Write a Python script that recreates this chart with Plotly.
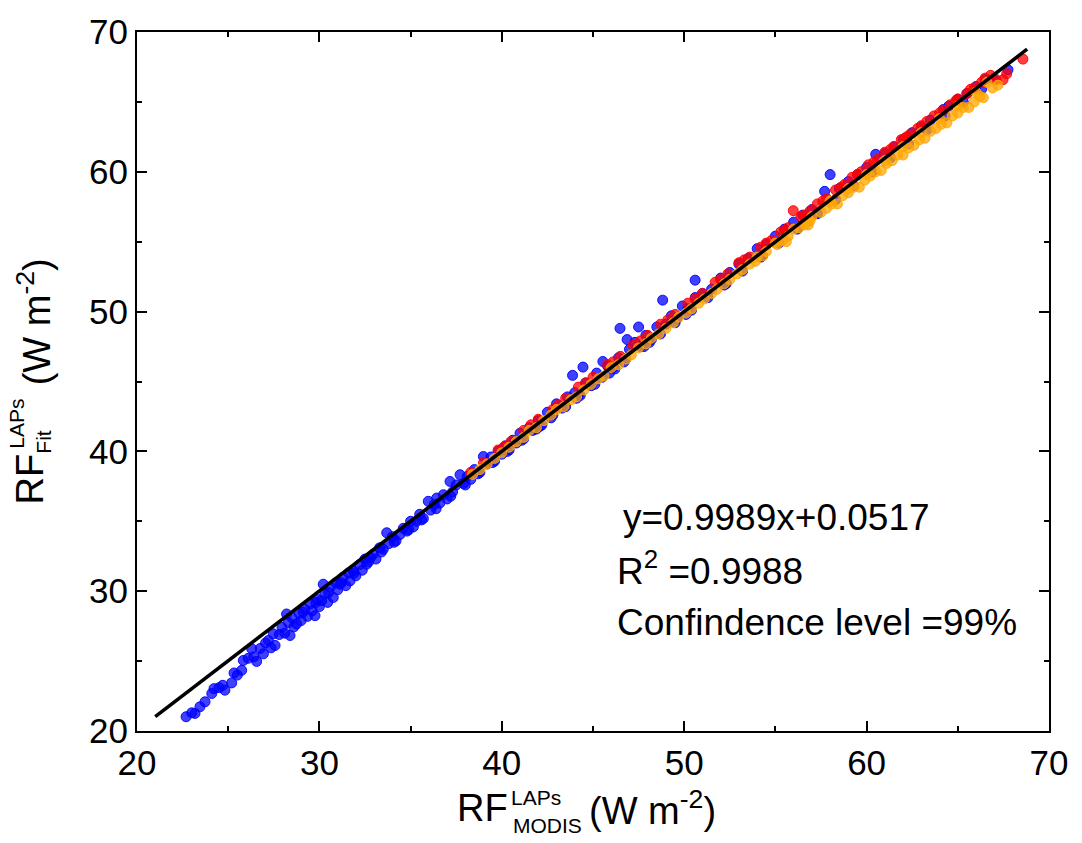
import plotly.graph_objects as go

# values
blue_x = [22.69, 23.0, 23.18, 23.45, 23.73, 24.1, 24.22, 24.5, 24.7, 24.82, 25.19, 25.32, 25.5, 25.74, 25.83,
          26.1, 26.29, 26.4, 26.56, 26.75, 26.93, 27.05, 27.2, 27.35, 27.47, 27.57, 27.8, 27.95, 28.1, 28.2,
          28.3, 28.39, 28.5, 28.6, 28.75, 28.9, 29.0, 29.2, 29.35, 29.5, 29.6, 29.76, 29.9, 30.0, 30.12,
          30.21, 30.3, 30.45, 30.6, 30.76, 30.9, 31.0, 31.13, 31.3, 31.45, 31.6, 31.68, 31.86, 32.0, 32.2,
          32.35, 32.5, 32.59, 32.8, 32.95, 33.1, 33.3, 33.5, 33.69, 33.8, 34.0, 34.2, 34.42, 34.6, 34.8,
          35.0, 35.15, 35.33, 35.5, 35.7, 35.97, 36.1, 36.3, 36.43, 36.6, 36.8, 37.0, 37.16, 37.3, 37.5,
          37.71, 37.9, 38.1, 38.3, 38.5, 38.7, 38.99, 39.2, 39.4, 39.6, 39.8, 40.0, 40.2, 40.4, 40.6,
          40.8, 41.0, 41.2, 41.5, 41.7, 42.0, 42.2, 42.5, 42.8, 43.0, 43.3, 43.6, 43.88, 44.0, 44.2,
          44.45, 44.6, 44.9, 45.2, 45.54, 45.5, 45.8, 46.1, 46.48, 46.4, 46.87, 46.8, 47.0, 47.3, 47.5,
          47.6, 47.9, 48.2, 48.5, 48.82, 49.0, 49.3, 49.6, 49.9, 50.2, 50.6, 50.6, 51.0, 51.5, 52.0,
          52.5, 53.0, 53.5, 54.0, 54.5, 55.0, 55.5, 56.0, 56.5, 57.0, 57.7, 58.0, 58.5, 59.0, 59.5,
          60.0, 60.5, 61.0, 61.5, 62.0, 62.5, 63.0, 63.5, 64.2, 64.5, 65.0, 65.5, 66.0, 66.5, 67.75,
          42.1, 44.1, 46.2, 48.1, 50.1, 52.2, 54.2,
          29.1, 29.8, 30.5, 31.2, 31.9, 32.7, 33.4, 34.1, 34.9, 35.6, 36.4, 37.2, 38.0, 38.8, 39.5,
          40.3, 41.1, 41.9, 42.7, 43.5, 44.3, 45.1, 45.9, 46.7, 47.8, 48.7, 49.5, 50.4, 51.3, 52.3,
          53.2, 54.3, 55.2, 56.2, 57.3, 58.3, 59.3, 60.3, 61.3, 62.3, 63.3, 64.3, 65.3, 66.3, 67.0]
blue_y = [21.02, 21.3, 21.26, 21.73, 22.09, 22.68, 23.03, 23.1, 23.27, 22.92, 23.44, 24.15, 24.0, 24.34, 25.05,
          25.2, 25.88, 25.3, 24.98, 25.9, 25.52, 26.3, 26.47, 25.95, 26.95, 26.12, 26.9, 27.4, 27.0, 28.37,
          27.75, 26.83, 28.1, 27.45, 27.66, 28.4, 27.9, 28.7, 28.2, 29.1, 28.6, 28.25, 29.4, 28.9, 29.32,
          30.5, 29.8, 29.2, 30.3, 29.55, 30.6, 30.1, 30.5, 31.0, 30.4, 31.3, 30.74, 31.45, 31.1, 31.9,
          31.5, 32.3, 31.93, 32.4, 32.64, 32.3, 33.1, 33.0, 34.18, 33.4, 33.9, 33.6, 34.06, 34.5, 34.3,
          35.0, 34.6, 35.0, 35.5, 35.2, 36.43, 35.8, 36.2, 36.66, 36.3, 36.9, 36.6, 37.85, 37.1, 37.6,
          38.33, 37.7, 38.2, 38.0, 38.7, 38.4, 39.63, 39.1, 39.6, 39.3, 40.0, 39.8, 40.4, 40.1, 40.8,
          40.6, 41.3, 40.9, 41.7, 41.5, 42.2, 41.9, 42.8, 42.6, 43.4, 43.1, 43.9, 45.44, 44.2, 44.0,
          46.03, 44.9, 44.7, 45.6, 46.43, 45.3, 46.1, 46.0, 48.8, 46.7, 48.0, 46.6, 47.3, 47.8, 48.9,
          47.5, 48.3, 48.0, 48.9, 50.82, 49.1, 49.7, 49.5, 50.4, 50.2, 52.25, 51.0, 51.3, 51.6, 52.4,
          52.8, 53.4, 53.8, 54.5, 54.8, 55.4, 55.9, 56.4, 56.9, 57.3, 58.6, 59.8, 58.8, 59.3, 59.8,
          60.3, 61.25, 61.3, 61.8, 62.3, 62.8, 63.2, 63.7, 64.45, 64.7, 65.2, 65.6, 66.1, 66.6, 67.3,
          41.8, 43.8, 45.9, 47.8, 49.8, 51.9, 53.9,
          28.5, 29.2, 29.9, 30.6, 31.3, 32.1, 32.8, 33.5, 34.4, 35.1, 35.9, 36.8, 37.6, 38.5, 39.2,
          40.0, 40.8, 41.6, 42.4, 43.2, 44.0, 44.8, 45.6, 46.4, 47.5, 48.4, 49.2, 50.1, 51.0, 52.0,
          52.9, 54.0, 54.9, 55.9, 57.0, 58.0, 59.0, 60.0, 61.0, 62.0, 63.0, 64.0, 65.0, 65.9, 66.6]

red_x = [38.3, 39.0, 39.8, 40.5, 41.2, 42.0, 42.8, 43.5, 44.2, 45.0, 45.8, 46.5, 47.2, 48.0, 48.7,
         49.5, 50.2, 51.0, 51.7, 52.4, 53.0, 53.6, 54.2, 54.8, 55.3, 55.7, 55.98, 56.4, 56.9, 57.3,
         57.8, 58.3, 58.8, 59.2, 59.7, 60.1, 60.6, 61.0, 61.5, 61.9, 62.2, 62.4, 62.8, 63.3, 63.7,
         64.2, 64.6, 65.0, 65.5, 65.9, 66.3, 66.8, 67.1, 67.48, 67.68, 68.57,
         40.1, 41.6, 43.1, 44.6, 46.1, 47.6, 49.1, 50.6, 52.0, 53.3, 54.5, 55.5, 56.6, 57.6, 58.6,
         59.5, 60.4, 61.3, 62.1, 63.0, 64.0, 64.9, 65.7, 66.5]
red_y = [38.5, 39.2, 40.1, 40.7, 41.5, 42.3, 43.0, 43.8, 44.6, 45.3, 46.2, 46.8, 47.6, 48.3, 49.1,
         49.8, 50.6, 51.3, 52.1, 52.7, 53.5, 53.9, 54.6, 55.1, 55.7, 56.0, 57.22, 56.8, 57.2, 57.7,
         58.1, 58.7, 59.1, 59.6, 60.0, 60.5, 60.9, 61.4, 61.8, 62.3, 62.5, 62.7, 63.1, 63.6, 64.0,
         64.4, 64.8, 65.2, 65.6, 66.0, 66.4, 66.9, 66.6, 66.59, 67.01, 68.06,
         40.3, 41.9, 43.3, 44.9, 46.4, 47.9, 49.4, 50.9, 52.3, 53.7, 54.9, 55.8, 56.9, 57.9, 58.9,
         59.8, 60.7, 61.6, 62.4, 63.3, 64.2, 65.1, 65.9, 66.7]

orange_x = [38.4, 39.2, 40.0, 40.8, 41.5, 42.3, 43.0, 43.8, 44.5, 45.3, 46.0, 46.8, 47.5, 48.2, 49.0,
            49.7, 50.4, 51.1, 51.8, 52.5, 53.2, 53.9, 54.5, 55.1, 55.7, 56.3, 56.9, 57.5, 58.1, 58.7,
            59.3, 59.9, 60.5, 61.1, 61.7, 62.3, 62.9, 63.5, 64.1, 64.7, 65.3, 65.9, 66.4, 66.9, 67.2,
            54.0, 55.0, 56.0, 57.0, 58.0, 59.0, 60.0, 61.0, 62.0, 63.0, 64.0, 65.0, 66.0, 66.6,
            38.8, 39.6, 40.4, 41.2, 41.9, 42.7, 43.4, 44.1, 44.9, 45.6, 46.4, 47.1, 47.9, 48.6, 49.4,
            50.1, 50.8, 51.5, 52.2, 52.9, 53.6, 54.3, 55.4, 56.6, 57.8, 59.0, 60.2, 61.4, 62.6, 63.8,
            65.0, 66.2, 55.6, 56.8, 58.4, 59.6, 60.8, 62.0, 63.2, 64.4, 65.6]
orange_y = [38.35, 39.1, 39.9, 40.7, 41.5, 42.2, 43.0, 43.7, 44.4, 45.2, 46.0, 46.6, 47.4, 48.1, 48.8,
            49.6, 50.2, 50.9, 51.6, 52.3, 53.0, 53.6, 54.3, 54.8, 55.4, 56.0, 56.5, 57.1, 57.7, 58.3,
            58.9, 59.4, 60.0, 60.6, 61.2, 61.7, 62.3, 62.9, 63.4, 64.0, 64.6, 65.0, 65.3, 66.0, 66.2,
            53.9, 54.9, 55.9, 56.8, 57.9, 58.8, 59.8, 60.8, 61.8, 62.8, 63.8, 64.7, 65.7, 66.4,
            38.7, 39.5, 40.3, 41.0, 41.7, 42.6, 43.2, 43.9, 44.8, 45.4, 46.2, 46.9, 47.7, 48.4, 49.2,
            49.9, 50.6, 51.3, 52.0, 52.7, 53.4, 54.0, 55.1, 56.2, 57.4, 58.5, 59.7, 60.8, 61.9, 63.1,
            64.2, 65.4, 55.0, 56.2, 57.7, 58.9, 60.1, 61.2, 62.4, 63.5, 64.6]

fit_x = [21.0, 68.8]
fit_y = [21.03, 68.77]

tick_vals = [20, 30, 40, 50, 60, 70]
tick_text = ["20", "30", "40", "50", "60", "70"]

FONT = "Liberation Sans, Arial, sans-serif"
W, H = 1082, 843
L, R, T, B = 137, 1049, 28, 731


def px(x):
    return (x - L) / (R - L)


def py(y):
    return (B - y) / (B - T)


fig = go.Figure()
for xs, ys, col in [(blue_x, blue_y, (0, 0, 255)),
                    (red_x, red_y, (255, 0, 0)),
                    (orange_x, orange_y, (255, 165, 0))]:
    r, g, b = col
    fig.add_trace(go.Scatter(
        x=xs, y=ys, mode="markers",
        marker=dict(size=10, color=f"rgba({r},{g},{b},0.75)",
                    line=dict(color=f"rgba({r},{g},{b},0.9)", width=1)),
        showlegend=False, cliponaxis=True))

fig.add_trace(go.Scatter(x=fit_x, y=fit_y, mode="lines",
                         line=dict(color="black", width=3.5), showlegend=False))

axis = dict(range=[20, 70], tickvals=tick_vals, ticktext=tick_text,
            showline=True, linewidth=2, linecolor="black", mirror="allticks",
            ticks="inside", ticklen=10, tickwidth=2, tickcolor="black",
            minor=dict(tickvals=[25, 35, 45, 55, 65], ticks="inside", ticklen=5,
                       tickwidth=2, tickcolor="black"),
            showgrid=False, zeroline=False,
            tickfont=dict(family=FONT, size=35, color="black"))

fig.update_layout(width=W, height=H, autosize=False,
                  margin=dict(l=L, r=W - R, t=T, b=H - B),
                  plot_bgcolor="white", paper_bgcolor="white",
                  xaxis=axis, yaxis=axis, font=dict(family=FONT, color="black"))


def note(text, x, y, size, anchor="center", angle=0):
    fig.add_annotation(text=text, x=px(x), y=py(y), xref="paper", yref="paper",
                       showarrow=False, xanchor=anchor, yanchor="middle",
                       textangle=angle, font=dict(family=FONT, size=size, color="black"))


# statistics
note("y=0.9989x+0.0517", 621, 516, 37, "left")
note("R<sup>2</sup> =0.9988", 615, 568, 37, "left")
note("Confindence level =99%", 615, 622, 37, "left")

# x title
note("RF", 482, 808, 38)
note("LAPs", 536, 798, 21)
note("MODIS", 547, 826, 21)
note("(W m<sup>-2</sup>)", 652, 808, 38)

# y title
note("RF", 30, 478, 38, angle=-90)
note("LAPs", 17, 422, 21, angle=-90)
note("Fit", 44, 441, 21, angle=-90)
note("(W m<sup>-2</sup>)", 34, 320, 38, angle=-90)

fig.write_html("out.html", config={"displayModeBar": False},
               post_script="document.body.style.margin='0';")
